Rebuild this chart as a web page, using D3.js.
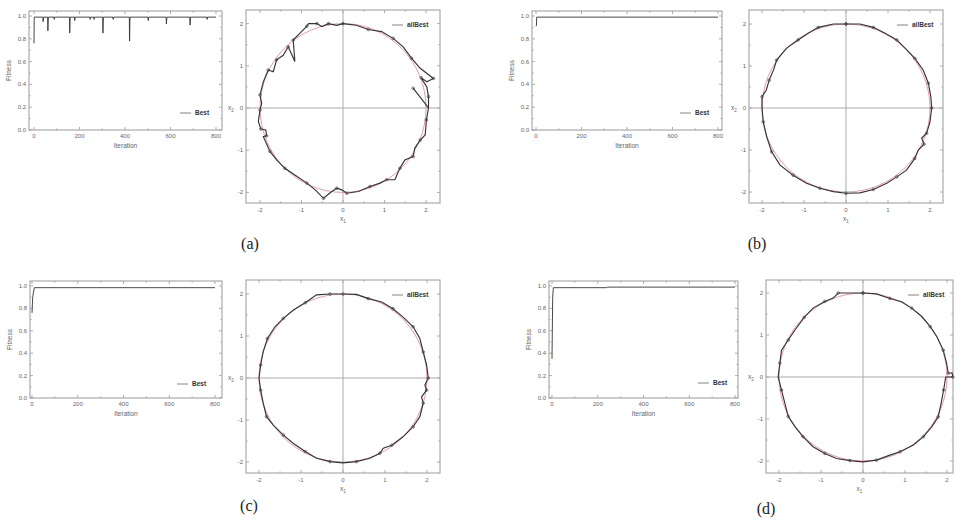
<!DOCTYPE html>
<html><head><meta charset="utf-8">
<script src="https://cdn.jsdelivr.net/npm/d3@7"></script>
<style>body{margin:0;background:#fff}svg{display:block}</style>
</head><body><svg id="fig" width="955" height="524"></svg>
<script>
// ---- data ----
const iterTicks = [0, 200, 400, 600, 800];
const fitTicks = [0, 0.2, 0.4, 0.6, 0.8, 1.0];
const posTicks = [-2, -1, 0, 1, 2];
const panelLetters = ["(a)", "(b)", "(c)", "(d)"];
const fitLegend = "Best";
const posLegend = "allBest";
const fitTitleX = "Iteration";
const fitTitleY = "Fitness";

// best fitness per iteration (a)-(d)
const fitnessA = [[0,0.76],[1,0.99],[39,0.99],[40,0.95],[42,0.99],[60,0.99],[61,0.87],[63,0.99],[88,0.99],[89,0.97],[91,0.99],[156,0.99],[157,0.85],[159,0.99],[178,0.99],[179,0.96],[181,0.99],[246,0.99],[247,0.97],[249,0.99],[263,0.99],[264,0.97],[266,0.99],[302,0.99],[303,0.85],[305,0.99],[347,0.99],[348,0.97],[350,0.99],[419,0.99],[420,0.78],[422,0.99],[501,0.99],[502,0.96],[504,0.99],[581,0.99],[582,0.93],[584,0.99],[685,0.99],[686,0.92],[688,0.99],[760,0.99],[761,0.97],[763,0.99],[800,0.99]];
const fitnessB = [[0,0.91],[2,0.92],[3,0.99],[800,0.99]];
const fitnessC = [[0,0.76],[3,0.9],[10,0.985],[800,0.985]];
const fitnessD = [[0,0.35],[3,0.9],[6,0.985],[240,0.985],[242,0.99],[800,0.99]];

// best position track (x1, x2) and the radius of the reference circle
const refRadius = 2;
const pathA = [[1.69,0.47],[2.06,0],[2.01,-0.28],[1.98,-0.64],[1.86,-0.76],[1.73,-0.95],[1.69,-1.15],[1.49,-1.23],[1.37,-1.43],[1.25,-1.70],[1.05,-1.70],[0.89,-1.78],[0.65,-1.86],[0.37,-1.98],[0.09,-2.02],[-0.03,-1.94],[-0.15,-1.90],[-0.27,-1.98],[-0.47,-2.14],[-0.67,-1.94],[-0.87,-1.78],[-1.16,-1.59],[-1.40,-1.43],[-1.60,-1.23],[-1.76,-1.03],[-1.92,-0.68],[-1.84,-0.66],[-1.86,-0.52],[-1.98,-0.50],[-2.04,-0.32],[-2.0,-0.05],[-1.96,0.11],[-2.0,0.31],[-1.92,0.62],[-1.80,0.90],[-1.68,0.86],[-1.60,1.14],[-1.44,1.25],[-1.32,1.45],[-1.16,1.10],[-1.20,1.61],[-1.00,1.81],[-0.87,1.94],[-0.83,2.0],[-0.63,2.0],[-0.51,1.93],[-0.35,2.0],[-0.15,1.96],[0,2.0],[0.32,1.96],[0.61,1.86],[0.93,1.81],[1.21,1.65],[1.45,1.45],[1.65,1.18],[1.86,0.94],[2.18,0.70],[2.02,0.62],[1.88,0.72],[2.02,0.50],[2.06,0.27],[2.06,0]];
const pathB = [[0,2.0],[0.33,2.0],[0.65,1.92],[0.93,1.78],[1.21,1.62],[1.43,1.40],[1.64,1.18],[1.84,0.90],[1.96,0.59],[2.02,0.27],[2.04,0],[2.0,-0.33],[1.92,-0.60],[1.80,-0.72],[1.86,-0.86],[1.72,-1.00],[1.64,-1.20],[1.44,-1.48],[1.21,-1.64],[0.97,-1.79],[0.65,-1.94],[0.33,-2.02],[0,-2.03],[-0.30,-1.99],[-0.62,-1.91],[-0.94,-1.79],[-1.26,-1.60],[-1.57,-1.36],[-1.77,-1.04],[-1.89,-0.68],[-1.97,-0.33],[-2.0,0],[-2.0,0.27],[-1.90,0.42],[-1.83,0.66],[-1.72,0.92],[-1.65,1.14],[-1.42,1.42],[-1.14,1.62],[-0.90,1.78],[-0.66,1.92],[-0.30,2.0],[0,2.0]];
const pathC = [[0,2.0],[0.32,1.99],[0.60,1.89],[0.92,1.81],[1.19,1.65],[1.43,1.45],[1.67,1.22],[1.83,0.94],[1.91,0.62],[1.99,0.31],[2.03,0],[1.95,-0.17],[1.99,-0.29],[1.87,-0.45],[1.91,-0.60],[1.83,-0.92],[1.67,-1.16],[1.43,-1.40],[1.16,-1.60],[0.96,-1.67],[0.88,-1.79],[0.64,-1.91],[0.32,-1.99],[0,-2.02],[-0.31,-1.99],[-0.63,-1.91],[-0.90,-1.75],[-1.18,-1.56],[-1.42,-1.36],[-1.66,-1.12],[-1.82,-0.92],[-1.90,-0.60],[-1.96,-0.29],[-2.0,0],[-1.96,0.31],[-1.90,0.63],[-1.80,0.94],[-1.62,1.22],[-1.42,1.42],[-1.18,1.62],[-0.90,1.79],[-0.63,1.98],[-0.31,2.0],[0,2.0]];
const pathD = [[0,2.0],[0.32,1.98],[0.64,1.87],[0.92,1.79],[1.16,1.64],[1.40,1.44],[1.60,1.20],[1.76,0.96],[1.91,0.64],[1.99,0.33],[2.03,0.09],[2.12,0.10],[2.14,0.0],[1.97,0],[1.92,-0.31],[1.86,-0.63],[1.79,-0.95],[1.64,-1.18],[1.44,-1.42],[1.20,-1.62],[0.88,-1.78],[0.64,-1.86],[0.32,-1.98],[0,-2.02],[-0.31,-1.99],[-0.63,-1.94],[-0.91,-1.82],[-1.19,-1.66],[-1.43,-1.42],[-1.62,-1.18],[-1.78,-0.94],[-1.86,-0.63],[-1.94,-0.31],[-2.02,0],[-1.98,0.33],[-1.94,0.64],[-1.78,0.88],[-1.62,1.12],[-1.40,1.42],[-1.19,1.64],[-0.91,1.80],[-0.71,1.88],[-0.59,2.0],[-0.31,2.0],[0,2.0]];

const fitSeries = [fitnessA, fitnessB, fitnessC, fitnessD];
const posSeries = [pathA, pathB, pathC, pathD];

// ---- layout (pixels) ----
const fitLayout = [
  {x0:34,  x1:216, y0:130, y1:16,  frame:[29,11,222,130],  leg:[180,113]},
  {x0:536, x1:718, y0:130, y1:16,  frame:[532,11,722,130], leg:[680,113]},
  {x0:32,  x1:215, y0:398, y1:286, frame:[30,281,222,398], leg:[177,384]},
  {x0:552, x1:735, y0:398, y1:286, frame:[549,281,738,398], leg:[698,383]}
];
const posLayout = [
  {cx:343, cy:108, kx:41.5, ky:42.2, frame:[246,10,440,203], leg:[392,25]},
  {cx:846, cy:108, kx:42,   ky:42,   frame:[749,10,943,203], leg:[897,25]},
  {cx:343, cy:378, kx:42,   ky:42,   frame:[246,280,440,473], leg:[392,295]},
  {cx:863, cy:377, kx:42,   ky:42,   frame:[766,280,953,473], leg:[908,295]}
];
const letterPos = [[250,249],[757,249],[249,511],[766,514]];

const svg = d3.select("#fig");
const FONT = "Liberation Sans, Arial, sans-serif";
const frameCol = "#9a9a9a", textCol = "#666", lineCol = "#333";

function frameAndTicks(g, fr, xs, ys, xMaj, xMin, yMaj, yMin) {
  const [l, t, r, b] = fr;
  g.append("rect").attr("x", l).attr("y", t).attr("width", r - l).attr("height", b - t)
    .attr("fill", "none").attr("stroke", frameCol).attr("stroke-width", 1);
  const tk = g.append("g").attr("stroke", frameCol).attr("stroke-width", 0.8);
  const addX = (vals, len) => vals.forEach(v => {
    const x = xs(v); if (x < l || x > r) return;
    tk.append("line").attr("x1", x).attr("x2", x).attr("y1", b).attr("y2", b - len);
    tk.append("line").attr("x1", x).attr("x2", x).attr("y1", t).attr("y2", t + len);
  });
  const addY = (vals, len) => vals.forEach(v => {
    const y = ys(v); if (y < t || y > b) return;
    tk.append("line").attr("y1", y).attr("y2", y).attr("x1", l).attr("x2", l + len);
    tk.append("line").attr("y1", y).attr("y2", y).attr("x1", r).attr("x2", r - len);
  });
  addX(xMaj, 3); addX(xMin, 1.6); addY(yMaj, 3); addY(yMin, 1.6);
}

// ---- fitness panels ----
fitSeries.forEach((data, i) => {
  const L = fitLayout[i];
  const g = svg.append("g");
  const xs = d3.scaleLinear().domain([0, 800]).range([L.x0, L.x1]);
  const ys = d3.scaleLinear().domain([0, 1]).range([L.y0, L.y1]);
  const [l, t, r, b] = L.frame;
  frameAndTicks(g, L.frame, xs, ys, iterTicks, d3.range(100, 800, 200), fitTicks, d3.range(0.1, 1, 0.2));
  g.append("g").selectAll("text").data(iterTicks).join("text")
    .attr("x", d => xs(d)).attr("y", b + 8).attr("text-anchor", "middle")
    .attr("font-family", FONT).attr("font-size", 6).attr("fill", textCol).text(d => d);
  g.append("g").selectAll("text").data(fitTicks).join("text")
    .attr("x", l - 3).attr("y", d => ys(d) + 2).attr("text-anchor", "end")
    .attr("font-family", FONT).attr("font-size", 6).attr("fill", textCol).text(d => d.toFixed(1));
  g.append("text").attr("x", (l + r) / 2).attr("y", b + 18).attr("text-anchor", "middle")
    .attr("font-family", FONT).attr("font-size", 6.5).attr("fill", textCol).text(fitTitleX);
  g.append("text").attr("transform", `translate(${l - 18},${(t + b) / 2}) rotate(-90)`)
    .attr("text-anchor", "middle").attr("font-family", FONT).attr("font-size", 6.5)
    .attr("fill", textCol).text(fitTitleY);
  g.append("path").datum(data)
    .attr("d", d3.line().x(d => xs(d[0])).y(d => ys(d[1])))
    .attr("fill", "none").attr("stroke", lineCol).attr("stroke-width", 0.9);
  const [lx, ly] = L.leg;
  g.append("line").attr("x1", lx).attr("x2", lx + 11).attr("y1", ly).attr("y2", ly)
    .attr("stroke", "#777").attr("stroke-width", 0.9);
  g.append("text").attr("x", lx + 15).attr("y", ly + 2.2).attr("font-family", FONT)
    .attr("font-size", 6.5).attr("font-weight", "bold").attr("fill", "#333").text(fitLegend);
});

// ---- position panels ----
posSeries.forEach((data, i) => {
  const L = posLayout[i];
  const g = svg.append("g");
  const xs = d3.scaleLinear().domain([-2, 2]).range([L.cx - 2 * L.kx, L.cx + 2 * L.kx]);
  const ys = d3.scaleLinear().domain([-2, 2]).range([L.cy + 2 * L.ky, L.cy - 2 * L.ky]);
  const [l, t, r, b] = L.frame;
  const half = [-1.5, -0.5, 0.5, 1.5];
  frameAndTicks(g, L.frame, xs, ys, posTicks, half, posTicks, half);
  // zero lines
  g.append("line").attr("x1", xs(0)).attr("x2", xs(0)).attr("y1", t).attr("y2", b)
    .attr("stroke", "#aaa").attr("stroke-width", 1);
  g.append("line").attr("x1", l).attr("x2", r).attr("y1", ys(0)).attr("y2", ys(0))
    .attr("stroke", "#aaa").attr("stroke-width", 1);
  g.append("g").selectAll("text").data(posTicks).join("text")
    .attr("x", d => xs(d)).attr("y", b + 9).attr("text-anchor", "middle")
    .attr("font-family", FONT).attr("font-size", 6).attr("fill", textCol).text(d => d);
  g.append("g").selectAll("text").data(posTicks).join("text")
    .attr("x", l - 3).attr("y", d => ys(d) + 2).attr("text-anchor", "end")
    .attr("font-family", FONT).attr("font-size", 6).attr("fill", textCol).text(d => d);
  g.append("text").attr("x", (l + r) / 2).attr("y", b + 18).attr("text-anchor", "middle")
    .attr("font-family", FONT).attr("font-size", 6.5).attr("fill", textCol)
    .html("x<tspan font-size='4.5' dy='1.5'>1</tspan>");
  g.append("text").attr("x", l - 15).attr("y", ys(0) + 2).attr("text-anchor", "middle")
    .attr("font-family", FONT).attr("font-size", 6.5).attr("fill", textCol)
    .html("x<tspan font-size='4.5' dy='1.5'>2</tspan>");
  // reference circle
  g.append("ellipse").attr("cx", xs(0)).attr("cy", ys(0))
    .attr("rx", xs(refRadius) - xs(0)).attr("ry", ys(0) - ys(refRadius))
    .attr("fill", "none").attr("stroke", "#e0707e").attr("stroke-width", 0.7);
  // best-position track
  g.append("path").datum(data)
    .attr("d", d3.line().x(d => xs(d[0])).y(d => ys(d[1])))
    .attr("fill", "none").attr("stroke", lineCol).attr("stroke-width", 1.15);
  g.append("g").selectAll("circle").data(data.filter((d, k) => k % 2 === 0)).join("circle")
    .attr("cx", d => xs(d[0])).attr("cy", d => ys(d[1])).attr("r", 1.3)
    .attr("fill", "none").attr("stroke", "#444").attr("stroke-width", 0.7);
  const [lx, ly] = L.leg;
  g.append("line").attr("x1", lx).attr("x2", lx + 11).attr("y1", ly).attr("y2", ly)
    .attr("stroke", "#777").attr("stroke-width", 0.9);
  g.append("text").attr("x", lx + 15).attr("y", ly + 2.2).attr("font-family", FONT)
    .attr("font-size", 6.5).attr("font-weight", "bold").attr("fill", "#333").text(posLegend);
});

// ---- panel letters ----
svg.append("g").selectAll("text").data(panelLetters).join("text")
  .attr("x", (d, i) => letterPos[i][0]).attr("y", (d, i) => letterPos[i][1])
  .attr("text-anchor", "middle").attr("font-family", "Liberation Serif, Times New Roman, serif")
  .attr("font-size", 16).attr("fill", "#222").text(d => d);
</script></body></html>
